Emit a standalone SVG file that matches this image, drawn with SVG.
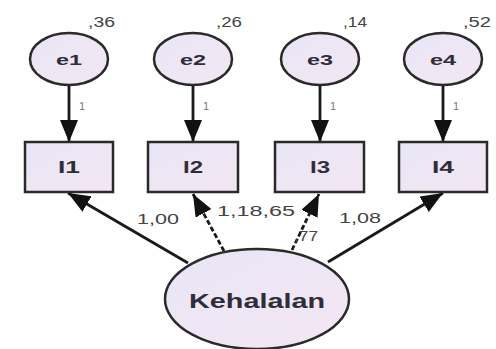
<svg xmlns="http://www.w3.org/2000/svg" width="496" height="349" viewBox="0 0 496 349">
<style>
.n{fill:url(#g);stroke:#2a2a2a;stroke-width:2.5}
.t{font-family:"Liberation Sans",Arial,sans-serif;fill:#2e2e3a;text-anchor:middle;font-weight:bold}
.lbl{font-family:"Liberation Sans",Arial,sans-serif;fill:#444;font-size:14px}
.one{font-family:"Liberation Sans",Arial,sans-serif;fill:#777;font-size:11px}
.c{stroke:#1a1a1a;stroke-width:2.8;fill:none;marker-end:url(#ah)}
.d{stroke-dasharray:5 2.5}
</style>
<defs>
<linearGradient id="g" x1="0" y1="0" x2="1" y2="1">
<stop offset="0" stop-color="#e8e6f6"/>
<stop offset="1" stop-color="#f4e6f3"/>
</linearGradient>
<marker id="ah" markerUnits="userSpaceOnUse" markerWidth="24" markerHeight="18" refX="22" refY="9" orient="auto">
<path d="M0,0 L22,9 L0,18 Z" fill="#111"/>
</marker>
</defs>
<rect width="496" height="349" fill="#fff"/>
<g id="connectors">
<line class="c" x1="69" y1="85" x2="69" y2="142"/>
<line class="c" x1="193" y1="85" x2="193" y2="142"/>
<line class="c" x1="320" y1="85" x2="320" y2="142"/>
<line class="c" x1="443" y1="85" x2="443" y2="142"/>
<line class="c" x1="188" y1="263" x2="68" y2="193"/>
<line class="c d" x1="224" y1="251" x2="193" y2="194"/>
<line class="c d" x1="292" y1="250" x2="319" y2="194"/>
<line class="c" x1="328" y1="262" x2="443" y2="193"/>
<text class="one" x="79" y="110">1</text>
<text class="one" x="203" y="110">1</text>
<text class="one" x="330" y="110">1</text>
<text class="one" x="453" y="110">1</text>
<text class="lbl" x="137" y="224" textLength="42" lengthAdjust="spacingAndGlyphs">1,00</text>
<text class="lbl" x="217" y="216" textLength="78" lengthAdjust="spacingAndGlyphs">1,18,65</text>
<text class="lbl" x="294" y="241" textLength="24" lengthAdjust="spacingAndGlyphs">,77</text>
<text class="lbl" x="339" y="223" textLength="42" lengthAdjust="spacingAndGlyphs">1,08</text>
</g>
<g id="e1"><ellipse class="n" cx="69" cy="59" rx="39" ry="26"/><text class="t" x="69" y="65" font-size="15" textLength="26" lengthAdjust="spacingAndGlyphs">e1</text><text class="lbl" x="88" y="27" textLength="27" lengthAdjust="spacingAndGlyphs">,36</text></g>
<g id="e2"><ellipse class="n" cx="193" cy="59" rx="39" ry="26"/><text class="t" x="193" y="65" font-size="15" textLength="26" lengthAdjust="spacingAndGlyphs">e2</text><text class="lbl" x="216" y="27" textLength="26" lengthAdjust="spacingAndGlyphs">,26</text></g>
<g id="e3"><ellipse class="n" cx="320" cy="59" rx="39" ry="26"/><text class="t" x="320" y="65" font-size="15" textLength="26" lengthAdjust="spacingAndGlyphs">e3</text><text class="lbl" x="343" y="27" textLength="24" lengthAdjust="spacingAndGlyphs">,14</text></g>
<g id="e4"><ellipse class="n" cx="443" cy="59" rx="39" ry="26"/><text class="t" x="443" y="65" font-size="15" textLength="26" lengthAdjust="spacingAndGlyphs">e4</text><text class="lbl" x="463" y="27" textLength="28" lengthAdjust="spacingAndGlyphs">,52</text></g>
<g id="I1"><rect class="n" x="25" y="142" width="88" height="50"/><text class="t" x="69" y="173" font-size="16" textLength="22" lengthAdjust="spacingAndGlyphs">I1</text></g>
<g id="I2"><rect class="n" x="148" y="142" width="90" height="50"/><text class="t" x="193" y="173" font-size="16" textLength="20" lengthAdjust="spacingAndGlyphs">I2</text></g>
<g id="I3"><rect class="n" x="275" y="142" width="89" height="50"/><text class="t" x="320" y="173" font-size="16" textLength="20" lengthAdjust="spacingAndGlyphs">I3</text></g>
<g id="I4"><rect class="n" x="399" y="142" width="88" height="50"/><text class="t" x="443" y="173" font-size="16" textLength="22" lengthAdjust="spacingAndGlyphs">I4</text></g>
<g id="Kehalalan"><ellipse class="n" cx="257" cy="299" rx="92" ry="50"/><text class="t" x="257" y="308" font-size="20" textLength="136" lengthAdjust="spacingAndGlyphs">Kehalalan</text></g>
</svg>
